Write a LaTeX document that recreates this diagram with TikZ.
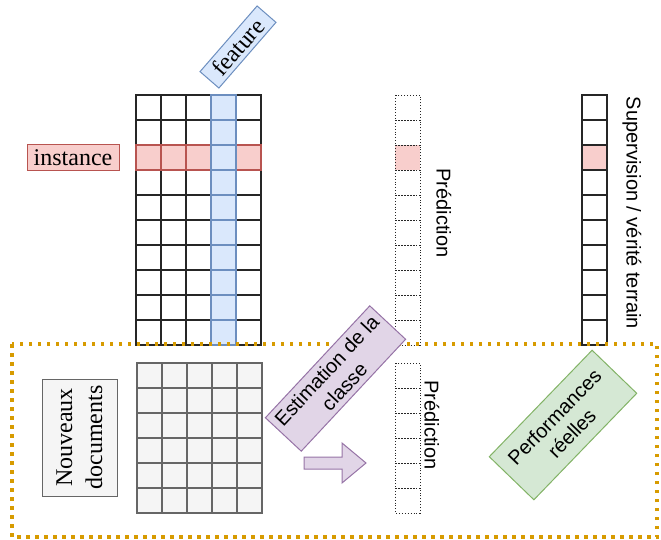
\documentclass[tikz,border=0pt]{standalone}
\usepackage{fontspec}
\setmainfont{Liberation Serif}
\setsansfont{Liberation Sans}
\usetikzlibrary{positioning}

\definecolor{redfill}{HTML}{F8CECC}
\definecolor{redline}{HTML}{B85450}
\definecolor{bluefill}{HTML}{DAE8FC}
\definecolor{blueline}{HTML}{6C8EBF}
\definecolor{grayfill}{HTML}{F5F5F5}
\definecolor{grayline}{HTML}{666666}
\definecolor{purplefill}{HTML}{E1D5E7}
\definecolor{purpleline}{HTML}{9673A6}
\definecolor{greenfill}{HTML}{D5E8D4}
\definecolor{greenline}{HTML}{82B366}
\definecolor{orangeline}{HTML}{D79B00}

\begin{document}
\begin{tikzpicture}[x=1pt, y=-1pt, font=\sffamily\fontsize{20}{24}\selectfont]
\tikzstyle{cell} = [draw=black!85, line width=1.3pt, fill=white]
\tikzstyle{redcell} = [draw=redline, line width=1.3pt, fill=redfill]
\tikzstyle{bluecell} = [draw=blueline, line width=1.3pt, fill=bluefill]
\tikzstyle{graycell} = [draw=grayline, line width=1.3pt, fill=grayfill]
\tikzstyle{predcell} = [draw=black!85, line width=0.9pt, dotted]
\tikzstyle{label} = [rectangle, inner sep=0pt, align=center, line width=1pt]
\useasboundingbox (0,0) rectangle (661,540);

% matrice d'apprentissage
\foreach \i in {0,...,4} \foreach \j in {0,...,9}
  \draw [cell] (136+25*\i, 95+25*\j) rectangle ++(25,25);
\foreach \i in {0,1,2,4}
  \draw [redcell] (136+25*\i, 145) rectangle ++(25,25);
\foreach \j in {0,...,9}
  \draw [bluecell] (211, 95+25*\j) rectangle ++(25,25);

% colonnes prediction / verite terrain
\fill [redfill] (395,145) rectangle ++(25,25);
\foreach \j in {0,...,9}
  \draw [predcell] (395, 95+25*\j) rectangle ++(25,25);
\foreach \j in {0,...,9}
  \draw [cell] (582, 95+25*\j) rectangle ++(25,25);
\draw [redcell, draw=black!85] (582,145) rectangle ++(25,25);

\node (inst) [label, draw=redline, fill=redfill, minimum width=92, minimum height=26, font=\rmfamily\fontsize{24}{28}\selectfont] at (73,158) {instance};
\node (feat) [label, draw=blueline, fill=bluefill, minimum width=87, minimum height=25, rotate=49, font=\rmfamily\fontsize{24}{28}\selectfont] at (238,47) {feature};
\node (pred) [label, rotate=-90] at (444,213) {Prédiction};
\node (verite) [label, rotate=-90] at (632,213) {Supervision / vérité terrain};

% nouveaux documents
\draw [orangeline, line width=3.5pt, dash pattern=on 3.5pt off 5.5pt] (12,344) rectangle (657,537);
\foreach \i in {0,...,4} \foreach \j in {0,...,5}
  \draw [graycell] (137+25*\i, 363+25*\j) rectangle ++(25,25);
\foreach \j in {0,...,5}
  \draw [predcell] (395, 363+25*\j) rectangle ++(25,25);

\node (docs) [label, draw=grayline, fill=grayfill, minimum width=117, minimum height=75, rotate=90, font=\rmfamily\fontsize{24}{30}\selectfont] at (79.5,437.5) {Nouveaux\\documents};
\node (estim) [label, draw=purpleline, fill=purplefill, minimum width=153, minimum height=49, rotate=47] at (335.5,378.5) {Estimation de la\\classe};
\node (pred2) [label, rotate=-90] at (432,425) {Prédiction};
\node (perf) [label, draw=greenline, fill=greenfill, minimum width=148, minimum height=62, rotate=46] at (563,425) {Performances\\réelles};

\draw [purpleline, fill=purplefill, line width=1pt] (304,457) -- (342,457) -- (342,443) -- (366,463) -- (342,483) -- (342,469) -- (304,469) -- cycle;

\end{tikzpicture}
\end{document}
